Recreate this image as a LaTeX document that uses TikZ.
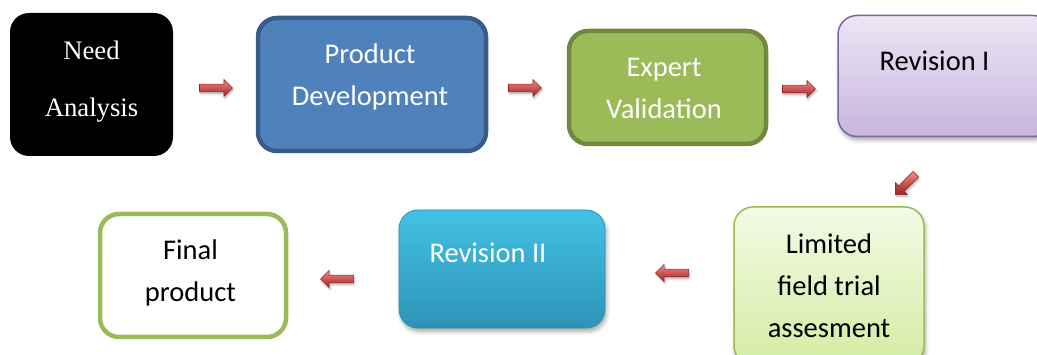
\documentclass[tikz,border=0pt]{standalone}
\usepackage{fontspec}
\setmainfont{Carlito}
\newfontfamily\serifface{Liberation Serif}
\usetikzlibrary{shapes.arrows,shadows.blur}

\definecolor{pdfill}{HTML}{4F81BD}
\definecolor{pdedge}{HTML}{385D8A}
\definecolor{evfill}{HTML}{9BBB59}
\definecolor{evedge}{HTML}{71893F}
\definecolor{rotop}{HTML}{ECE6F3}
\definecolor{robot}{HTML}{C8B5DF}
\definecolor{roedge}{HTML}{8064A2}
\definecolor{lftop}{HTML}{F3FAE6}
\definecolor{lfbot}{HTML}{D3EDA2}
\definecolor{rttop}{HTML}{43C2E4}
\definecolor{rtbot}{HTML}{2D93B8}
\definecolor{rtedge}{HTML}{2E8FB2}
\definecolor{artop}{HTML}{F58A8A}
\definecolor{armid}{HTML}{E04848}
\definecolor{arbot}{HTML}{9C2222}
\definecolor{aredge}{HTML}{962424}

\tikzset{
  box/.style={rounded corners=19pt, inner sep=0pt},
  softshadow/.style={blur shadow={shadow xshift=1.5pt, shadow yshift=-3.5pt,
      shadow blur radius=4pt, shadow opacity=35}},
  label/.style={align=center, inner sep=0pt, font=\fontsize{28.5}{42}\selectfont},
  blockarrow/.style={single arrow, draw=aredge, line width=0.6pt,
      top color=artop, middle color=armid, bottom color=arbot,
      minimum height=33pt, inner sep=3.6pt, single arrow head extend=4.6pt,
      blur shadow={shadow xshift=1pt, shadow yshift=-2pt,
      shadow blur radius=2pt, shadow opacity=30}},
}

\begin{document}
\begin{tikzpicture}[x=1pt,y=-1pt]
\useasboundingbox (0,0) rectangle (1037,355);
\clip (0,0) rectangle (1037,355);

% process boxes, top row
\node[box, fill=black, minimum width=163pt, minimum height=143pt] (na) at (91.5,84.5) {};
\node[box, fill=pdfill, draw=pdedge, line width=4.5pt,
      minimum width=228pt, minimum height=133pt] (pd) at (372,84.5) {};
\node[box, fill=evfill, draw=evedge, line width=4.5pt,
      minimum width=197pt, minimum height=113pt] (ev) at (667.5,87.5) {};
\node[box, softshadow, top color=rotop, bottom color=robot, draw=roedge, line width=1.5pt,
      minimum width=214pt, minimum height=121pt] (r1) at (945,76) {};

% process boxes, bottom row
\node[box, softshadow, top color=lftop, bottom color=lfbot, draw=evfill, line width=1.5pt,
      minimum width=190pt, minimum height=158pt] (lf) at (829,286) {};
\node[box, softshadow, top color=rttop, bottom color=rtbot, draw=rtedge, line width=0.8pt,
      minimum width=206pt, minimum height=118pt] (r2) at (502,269) {};
\node[box, fill=white, draw=evfill, line width=4.5pt,
      minimum width=186pt, minimum height=123pt] (fp) at (193,275.5) {};

% box texts
\node[label, text=white, font=\serifface\fontsize{26.7}{57}\selectfont] (tna) at (91.5,82) {Need\\Analysis};
\node[label, text=white] (tpd) at (370,77) {Product\\Development};
\node[label, text=white] (tev) at (664,88) {Expert\\Validation};
\node[label] (tr1) at (934.5,61) {Revision I};
\node[label] (tlf) at (829,286) {Limited\\field trial\\assesment};
\node[label, text=white] (tr2) at (488,253) {Revision II};
\node[label] (tfp) at (190.5,272.5) {Final\\product};

% block arrows between the steps
\node[blockarrow] (a1) at (214,88) {};
\node[blockarrow] (a2) at (523,88) {};
\node[blockarrow] (a3) at (797,89) {};
\node[blockarrow, minimum height=29pt, rotate=225] (a4) at (907,183) {};
\node[blockarrow, shape border rotate=180] (a5) at (674,273) {};
\node[blockarrow, shape border rotate=180] (a6) at (339,279) {};
\end{tikzpicture}
\end{document}
